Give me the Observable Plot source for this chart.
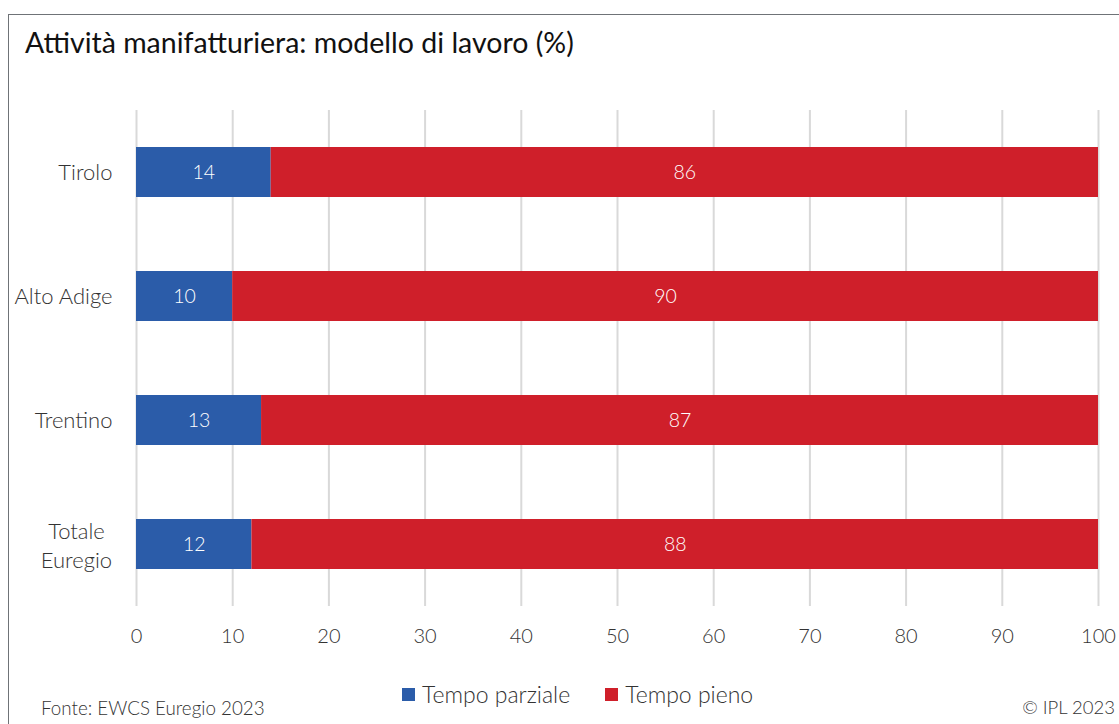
<!DOCTYPE html>
<html>
<head>
<meta charset="utf-8">
<script src="https://cdn.jsdelivr.net/npm/d3@7"></script>
<script src="https://cdn.jsdelivr.net/npm/@observablehq/plot@0.6"></script>
<style>
  html, body { margin: 0; padding: 0; background: #fff; width: 1119px; height: 724px; overflow: hidden; font-family: Lato, "Noto Sans", sans-serif; font-weight: 300; }
  #frame { position: absolute; left: 8px; top: 14px; width: 1140px; height: 740px; border: 1.5px solid #6f7377; box-sizing: border-box; }
  #title { position: absolute; left: 25px; top: 25px; font-size: 28.5px; color: #111; white-space: nowrap; font-weight: 400; }
  #chart { position: absolute; left: 0; top: 0; }
  #legend { position: absolute; top: 680px; left: 402px; font-size: 23px; color: #333; white-space: nowrap; display: flex; align-items: center; }
  .sw { display: inline-block; width: 13px; height: 13px; margin-right: 7px; }
  .item { display: flex; align-items: center; margin-right: 35px; }
  #src { position: absolute; left: 41px; top: 696px; font-size: 18.8px; color: #333; white-space: nowrap; }
  #copy { position: absolute; right: 4px; top: 696px; font-size: 18.5px; color: #333; white-space: nowrap; }
</style>
</head>
<body>
<div id="frame"></div>
<div id="title">Attività manifatturiera: modello di lavoro (%)</div>
<div id="chart"></div>
<div id="legend"></div>
<div id="src">Fonte: EWCS Euregio 2023</div>
<div id="copy">© IPL 2023</div>
<script>
const regions = ["Tirolo", "Alto Adige", "Trentino", "Totale Euregio"];
const types = ["Tempo parziale", "Tempo pieno"];
const parziale = [14, 10, 13, 12];
const pieno = [86, 90, 87, 88];
const xTicks = [0, 10, 20, 30, 40, 50, 60, 70, 80, 90, 100];
const colors = ["#2b5ca9", "#cf1f2a"];

const data = [];
regions.forEach((r, i) => data.push({region: r, type: types[0], value: parziale[i]}));
regions.forEach((r, i) => data.push({region: r, type: types[1], value: pieno[i]}));

const singleLine = regions.filter(r => !r.includes(" ") || r === "Alto Adige");
const multiLine = regions.filter(r => !singleLine.includes(r));

const chart = Plot.plot({
  width: 1119,
  height: 660,
  marginLeft: 136,
  marginRight: 21,
  marginTop: 110,
  marginBottom: 54,
  style: {fontFamily: "Lato, 'Noto Sans', sans-serif", fontWeight: 300, background: "transparent"},
  x: {domain: [0, 100], ticks: xTicks, label: null},
  y: {domain: regions, padding: 0.6, paddingOuter: 0.3, label: null},
  color: {domain: types, range: colors},
  marks: [
    Plot.gridX(xTicks, {stroke: "#d9d9d9", strokeOpacity: 1, strokeWidth: 2}),
    Plot.barX(data, Plot.stackX({x: "value", y: "region", fill: "type", order: types})),
    Plot.text(data, Plot.stackX({x: "value", y: "region", z: "type", text: d => String(d.value), fill: "white", fontSize: 19.5, order: types})),
    Plot.axisX({ticks: xTicks, tickSize: 0, tickPadding: 22, fontSize: 20, color: "#333", label: null}),
    Plot.axisY({ticks: singleLine, tickSize: 0, tickPadding: 24, fontSize: 22, color: "#333", label: null}),
    Plot.axisY({ticks: multiLine, tickSize: 0, tickPadding: 60, fontSize: 22, color: "#333", label: null,
      textAnchor: "middle", lineHeight: 1.3, tickFormat: d => d.replace(" ", "\n")})
  ]
});
document.getElementById("chart").appendChild(chart);

const legend = document.getElementById("legend");
types.forEach((t, i) => {
  const it = document.createElement("span");
  it.className = "item";
  it.innerHTML = `<span class="sw" style="background:${colors[i]}"></span>${t}`;
  legend.appendChild(it);
});
</script>
</body>
</html>
